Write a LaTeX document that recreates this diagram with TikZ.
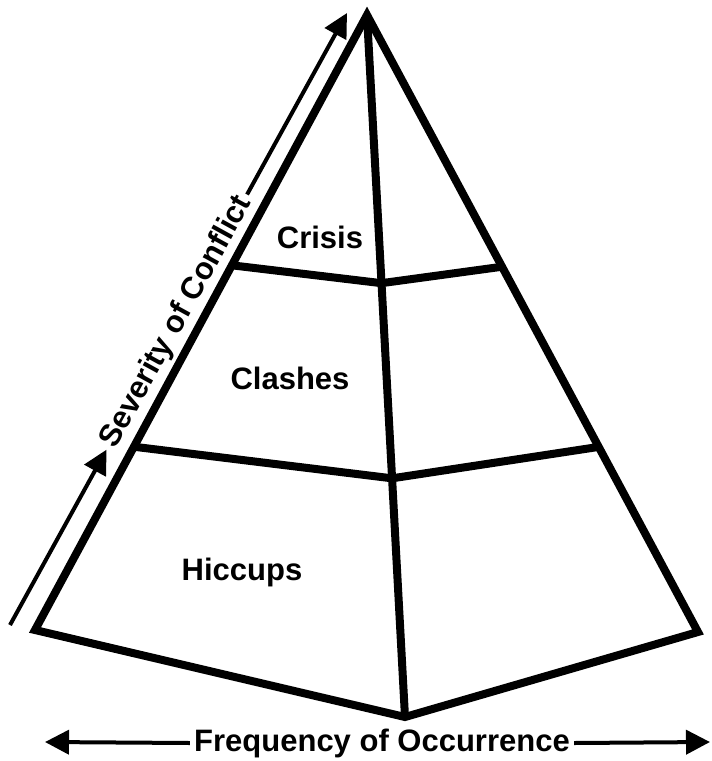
\documentclass[tikz,border=0pt]{standalone}
\usepackage{fontspec}
\setmainfont{Liberation Sans}
\usetikzlibrary{calc,arrows.meta}

\begin{document}
\begin{tikzpicture}[x=0.5pt, y=-0.5pt, font=\fontsize{15.5}{18}\selectfont\bfseries,
  wall/.style={line width=4pt},
  axisline/.style={line width=2pt},
  tip/.style={-{Triangle[length=12pt,width=12pt]}}]
  \useasboundingbox (0,0) rectangle (712,761);
  % apex, base corners and front corner
  \coordinate (A) at (367,15);
  \coordinate (L) at (35,630);
  \coordinate (R) at (698,632);
  \coordinate (B) at (405,717);
  % level lines
  \coordinate (c1) at ($(A)!0.407!(L)$);
  \coordinate (c2) at ($(A)!0.382!(B)$);
  \coordinate (c3) at ($(A)!0.408!(R)$);
  \coordinate (k1) at ($(A)!0.702!(L)$);
  \coordinate (k2) at ($(A)!0.660!(B)$);
  \coordinate (k3) at ($(A)!0.700!(R)$);
  % pyramid
  \draw[wall] (A) -- (L) -- (B) -- (R) -- cycle;
  \draw[wall] (A) -- (B);
  \draw[wall] (c1) -- (c2) -- (c3);
  \draw[wall] (k1) -- (k2) -- (k3);
  % levels
  \node[anchor=base] (crisis)  at (320,248) {Crisis};
  \node[anchor=base] (clashes) at (290,389) {Clashes};
  \node[anchor=base] (hiccups) at (242,580) {Hiccups};
  % severity axis
  \coordinate (s0) at (10,625);
  \coordinate (s1) at (347,13);
  \node[rotate=61.2, inner sep=2pt] (sev) at ($(s0)!0.495!(s1)$) {Severity of Conflict};
  \draw[axisline, tip] (s0) -- (sev);
  \draw[axisline, tip] (sev) -- (s1);
  % frequency axis
  \node[inner sep=2pt] (freq) at (382,743) {Frequency of Occurrence};
  \coordinate (f0) at (45,742);
  \coordinate (f1) at (710,742);
  \draw[axisline, tip] (freq.west) -- (f0);
  \draw[axisline, tip] (freq.east) -- (f1);
\end{tikzpicture}
\end{document}
